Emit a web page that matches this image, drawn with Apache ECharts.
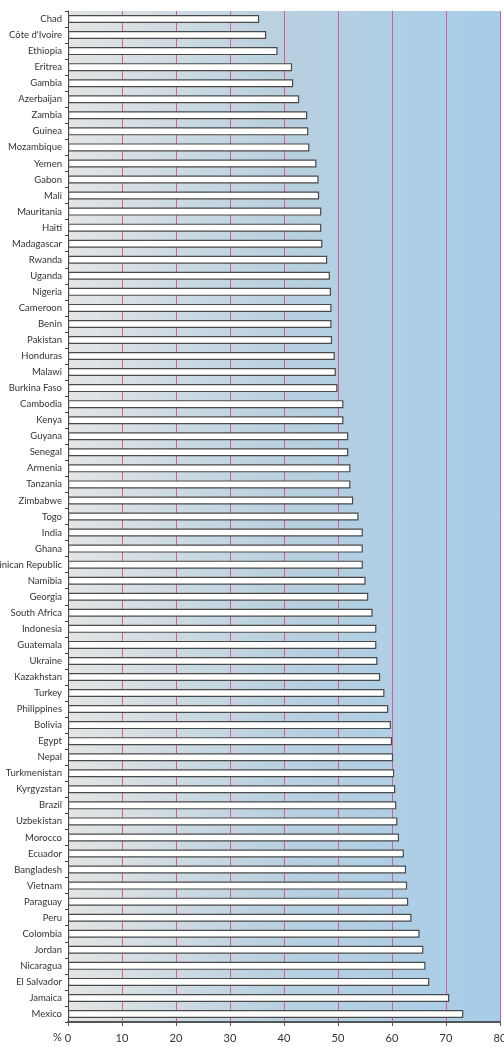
<!DOCTYPE html>
<html>
<head>
<meta charset="utf-8">
<script src="https://cdn.jsdelivr.net/npm/echarts@6/dist/echarts.min.js"></script>
<style>
  html, body { margin: 0; padding: 0; background: #fff; }
  #chart { width: 504px; height: 1047px; }
</style>
</head>
<body>
<div id="chart"></div>
<script>
// 国家（从上到下）
var countries = ['Chad', 'Côte d\'Ivoire', 'Ethiopia', 'Eritrea', 'Gambia', 'Azerbaijan', 'Zambia',
    'Guinea', 'Mozambique', 'Yemen', 'Gabon', 'Mali', 'Mauritania', 'Haiti', 'Madagascar', 'Rwanda',
    'Uganda', 'Nigeria', 'Cameroon', 'Benin', 'Pakistan', 'Honduras', 'Malawi', 'Burkina Faso',
    'Cambodia', 'Kenya', 'Guyana', 'Senegal', 'Armenia', 'Tanzania', 'Zimbabwe', 'Togo', 'India',
    'Ghana', 'Dominican Republic', 'Namibia', 'Georgia', 'South Africa', 'Indonesia', 'Guatemala',
    'Ukraine', 'Kazakhstan', 'Turkey', 'Philippines', 'Bolivia', 'Egypt', 'Nepal', 'Turkmenistan',
    'Kyrgyzstan', 'Brazil', 'Uzbekistan', 'Morocco', 'Ecuador', 'Bangladesh', 'Vietnam', 'Paraguay',
    'Peru', 'Colombia', 'Jordan', 'Nicaragua', 'El Salvador', 'Jamaica', 'Mexico'];

// 数值 (%)
var values = [35.4, 36.7, 38.8, 41.5, 41.7, 42.8, 44.3,
    44.5, 44.7, 46.0, 46.4, 46.5, 46.9, 46.9, 47.1, 48.0,
    48.5, 48.7, 48.8, 48.8, 48.9, 49.4, 49.6, 49.9,
    51.0, 51.0, 51.9, 51.9, 52.3, 52.3, 52.8, 53.8, 54.6,
    54.6, 54.6, 55.1, 55.6, 56.4, 57.1, 57.1,
    57.3, 57.8, 58.6, 59.3, 59.8, 60.0, 60.2, 60.4,
    60.6, 60.8, 61.0, 61.3, 62.2, 62.6, 62.8, 63.0,
    63.6, 65.1, 65.8, 66.2, 66.9, 70.6, 73.2];

var xTicks = [0, 10, 20, 30, 40, 50, 60, 70, 80];

var chart = echarts.init(document.getElementById('chart'));
var option = {
    animation: false,
    textStyle: { fontFamily: 'Lato' },
    grid: {
        left: 68,
        right: 4,
        top: 11,
        bottom: 25,
        outerBoundsMode: 'none',
        containLabel: false,
        show: true,
        borderWidth: 0,
        backgroundColor: new echarts.graphic.LinearGradient(0, 0, 1, 0, [
            { offset: 0, color: '#e3e5e5' },
            { offset: 0.5, color: '#b8d0e0' },
            { offset: 1, color: '#a7cdea' }
        ])
    },
    xAxis: {
        type: 'value',
        min: xTicks[0],
        max: xTicks[xTicks.length - 1],
        interval: 10,
        axisLine: { show: true, lineStyle: { color: '#555', width: 2 } },
        axisTick: { show: true, length: 4, lineStyle: { color: '#555' } },
        axisLabel: { color: '#333', fontSize: 11, margin: 11 },
        splitLine: {
            show: true,
            lineStyle: { color: '#d6608a', width: 1 }
        }
    },
    yAxis: {
        type: 'category',
        inverse: true,
        data: countries,
        axisLine: { show: true, lineStyle: { color: '#444', width: 1 } },
        axisTick: { show: true, length: 3, lineStyle: { color: '#444' } },
        axisLabel: { color: '#333', fontSize: 9.5, margin: 6, interval: 0 },
        splitLine: { show: false }
    },
    series: [
        {
            type: 'bar',
            data: values,
            barWidth: 8,
            itemStyle: {
                color: '#fff',
                borderColor: '#4a4a4a',
                borderWidth: 1.2
            }
        }
    ],
    graphic: [
        {
            type: 'text',
            left: 53,
            top: 1032,
            style: { text: '%', fill: '#333', font: '11px Lato' }
        }
    ]
};
chart.setOption(option);
</script>
</body>
</html>
